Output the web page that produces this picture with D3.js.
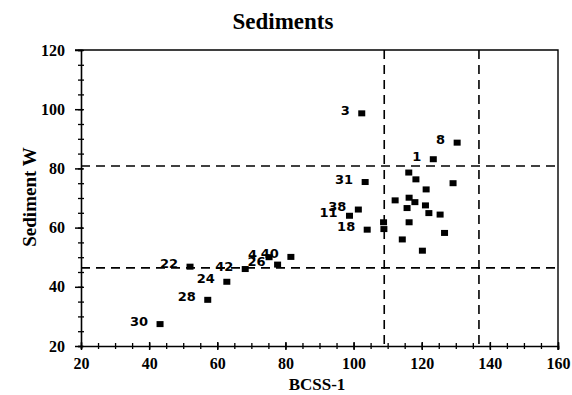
<!DOCTYPE html>
<html>
<head>
<meta charset="utf-8">
<script src="https://cdn.jsdelivr.net/npm/d3@7"></script>
<style>
  html, body { margin: 0; padding: 0; background: #fff; }
  svg { display: block; }
  .serif { font-family: "Liberation Serif", "Times New Roman", serif; font-weight: bold; fill: #000; }
  .pt-label { font-family: "DejaVu Sans", sans-serif; font-weight: bold; font-size: 13px; fill: #000; }
</style>
</head>
<body>
<svg id="chart" width="572" height="395"></svg>
<script>
// Sample sediment measurements: BCSS-1 vs Sediment W
const bcss = [102.4, 130.4, 123.4, 103.4, 101.4, 98.8, 104.0,
              108.8, 108.9, 116.2, 118.3, 129.2, 121.3, 112.2, 116.3, 118.0,
              115.7, 121.1, 122.1, 125.4, 116.3, 126.7, 114.3, 120.2,
              81.6, 77.7, 75.2, 68.2, 52.0, 62.8, 57.2, 43.2];
const sedimentW = [98.6, 88.7, 83.1, 75.4, 66.1, 64.0, 59.3,
                   61.8, 59.5, 78.6, 76.3, 75.0, 72.9, 69.2, 70.1, 68.6,
                   66.6, 67.5, 64.9, 64.4, 61.8, 58.2, 56.0, 52.2,
                   50.1, 47.5, 50.0, 46.0, 46.8, 41.7, 35.6, 27.4];
const sampleIds = ["3", "8", "1", "31", "38", "11", "18",
                   "", "", "", "", "", "", "", "", "",
                   "", "", "", "", "", "", "", "",
                   "40", "26", "4", "42", "22", "24", "28", "30"];

// Reference limits (dashed)
const xLimits = [109, 136.8];
const yLimits = [80.8, 46.4];

const xMajorTicks = [20, 40, 60, 80, 100, 120, 140, 160];
const yMajorTicks = [20, 40, 60, 80, 100, 120];

const titleText = "Sediments";
const xTitle = "BCSS-1";
const yTitle = "Sediment W";

const svg = d3.select("#chart");
const pLeft = 81, pRight = 558, pTop = 50, pBottom = 346;

const x = d3.scaleLinear().domain([20, 160]).range([pLeft, pRight]);
const y = d3.scaleLinear().domain([20, 120]).range([pBottom, pTop]);

// Frame (top and right edges)
svg.append("path")
  .attr("d", `M${pLeft - 6},${pTop}H${pRight}V${pBottom + 4}`)
  .attr("fill", "none").attr("stroke", "#000").attr("stroke-width", 1.4);

// Minor ticks every 5 units, crossing the axis line
const xMinor = d3.range(20, 161, 5);
const yMinor = d3.range(20, 121, 5);

const gx = svg.append("g").attr("transform", `translate(0,${pBottom})`)
  .call(d3.axisBottom(x).tickValues(xMinor).tickSize(3).tickFormat(""));
gx.selectAll(".tick line").attr("y1", -3).attr("stroke-width", 1.3);
gx.select(".domain").attr("stroke-width", 1.6);

const gxMaj = svg.append("g").attr("transform", `translate(0,${pBottom})`)
  .call(d3.axisBottom(x).tickValues(xMajorTicks).tickSize(4).tickPadding(8));
gxMaj.select(".domain").remove();
gxMaj.selectAll(".tick line").attr("y1", -4).attr("stroke-width", 1.5);
gxMaj.selectAll(".tick text").attr("class", "serif").style("font-size", "16px");

const gy = svg.append("g").attr("transform", `translate(${pLeft},0)`)
  .call(d3.axisLeft(y).tickValues(yMinor).tickSize(3).tickFormat(""));
gy.selectAll(".tick line").attr("x1", 3).attr("stroke-width", 1.3);
gy.select(".domain").attr("stroke-width", 1.6);

const gyMaj = svg.append("g").attr("transform", `translate(${pLeft},0)`)
  .call(d3.axisLeft(y).tickValues(yMajorTicks).tickSize(6).tickPadding(10));
gyMaj.select(".domain").remove();
gyMaj.selectAll(".tick line").attr("x1", 2).attr("stroke-width", 1.5);
gyMaj.selectAll(".tick text").attr("class", "serif").style("font-size", "16px");

// Dashed reference lines
svg.append("g").selectAll("line").data(xLimits).join("line")
  .attr("x1", d => x(d)).attr("x2", d => x(d))
  .attr("y1", pTop).attr("y2", pBottom)
  .attr("stroke", "#000").attr("stroke-width", 1.6).attr("stroke-dasharray", "9,6");
svg.append("g").selectAll("line").data(yLimits).join("line")
  .attr("x1", pLeft).attr("x2", pRight)
  .attr("y1", d => y(d)).attr("y2", d => y(d))
  .attr("stroke", "#000").attr("stroke-width", 1.6).attr("stroke-dasharray", "9,6");

// Points
const pts = bcss.map((v, i) => ({ x: v, y: sedimentW[i], id: sampleIds[i] }));
svg.append("g").selectAll("rect").data(pts).join("rect")
  .attr("x", d => x(d.x) - 3.5).attr("y", d => y(d.y) - 3)
  .attr("width", 7).attr("height", 6).attr("fill", "#000");

// Sample labels, to the left of each marker
svg.append("g").selectAll("text").data(pts.filter(d => d.id)).join("text")
  .attr("class", "pt-label")
  .attr("x", d => x(d.x) - 12).attr("y", d => y(d.y) - 3)
  .attr("text-anchor", "end").attr("dominant-baseline", "central")
  .text(d => d.id);

// Titles
svg.append("text").attr("class", "serif").attr("x", 283).attr("y", 29)
  .attr("text-anchor", "middle").style("font-size", "23px").text(titleText);
svg.append("text").attr("class", "serif").attr("x", 317).attr("y", 390)
  .attr("text-anchor", "middle").style("font-size", "17px").text(xTitle);
svg.append("text").attr("class", "serif")
  .attr("transform", "translate(36,197) rotate(-90)")
  .attr("text-anchor", "middle").style("font-size", "19px").text(yTitle);
</script>
</body>
</html>
